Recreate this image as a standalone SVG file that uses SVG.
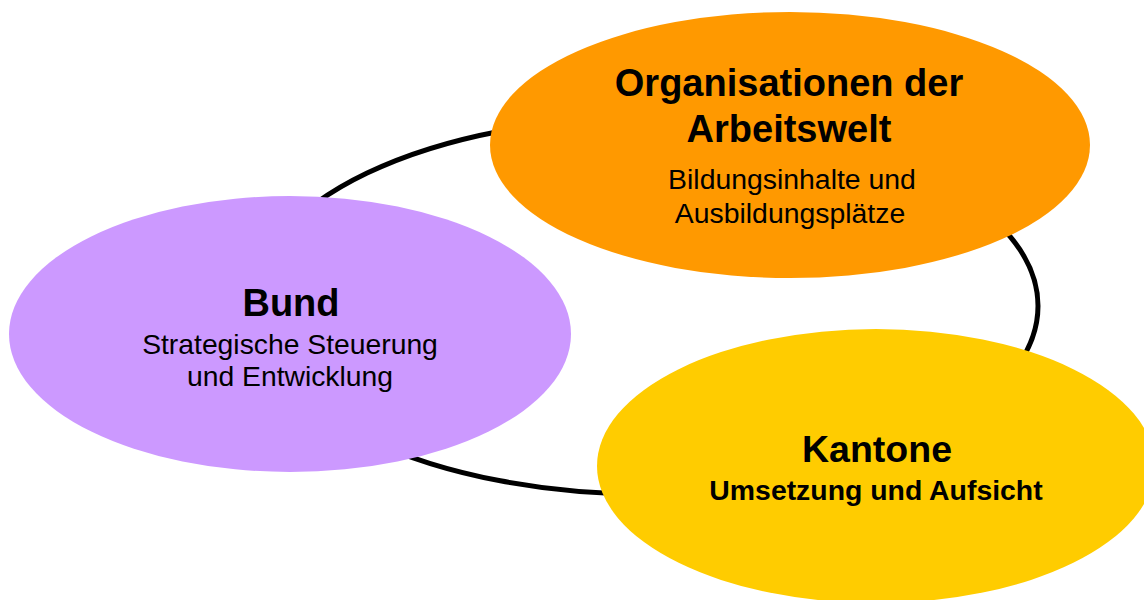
<svg xmlns="http://www.w3.org/2000/svg" width="1144" height="600" viewBox="0 0 1144 600">
<style>
.t{font-family:"Liberation Sans",Arial,Helvetica,sans-serif;fill:#000;text-anchor:middle}
.b{font-weight:bold}
.ring{fill:none;stroke:#000;stroke-width:5}
</style>
<rect width="1144" height="600" fill="#fff"/>
<g id="connectors">
<ellipse class="ring" cx="645" cy="306" rx="393" ry="188"/>
</g>
<g id="oda">
<ellipse cx="790" cy="145" rx="300" ry="133" fill="#FF9900"/>
<text class="t b" x="789" y="96" font-size="38">Organisationen der</text>
<text class="t b" x="789" y="142" font-size="38">Arbeitswelt</text>
<text class="t" x="792" y="189" font-size="28.4">Bildungsinhalte und</text>
<text class="t" x="790" y="223" font-size="28.4">Ausbildungsplätze</text>
</g>
<g id="bund">
<ellipse cx="290" cy="334" rx="281" ry="138" fill="#CC99FF"/>
<text class="t b" x="291" y="316" font-size="38">Bund</text>
<text class="t" x="290" y="354" font-size="28.3">Strategische Steuerung</text>
<text class="t" x="290" y="386" font-size="28.3">und Entwicklung</text>
</g>
<g id="kantone">
<ellipse cx="876" cy="466" rx="279" ry="137" fill="#FFCC00"/>
<text class="t b" x="877" y="462" font-size="37.5">Kantone</text>
<text class="t b" x="876" y="500" font-size="28.4">Umsetzung und Aufsicht</text>
</g>
</svg>
